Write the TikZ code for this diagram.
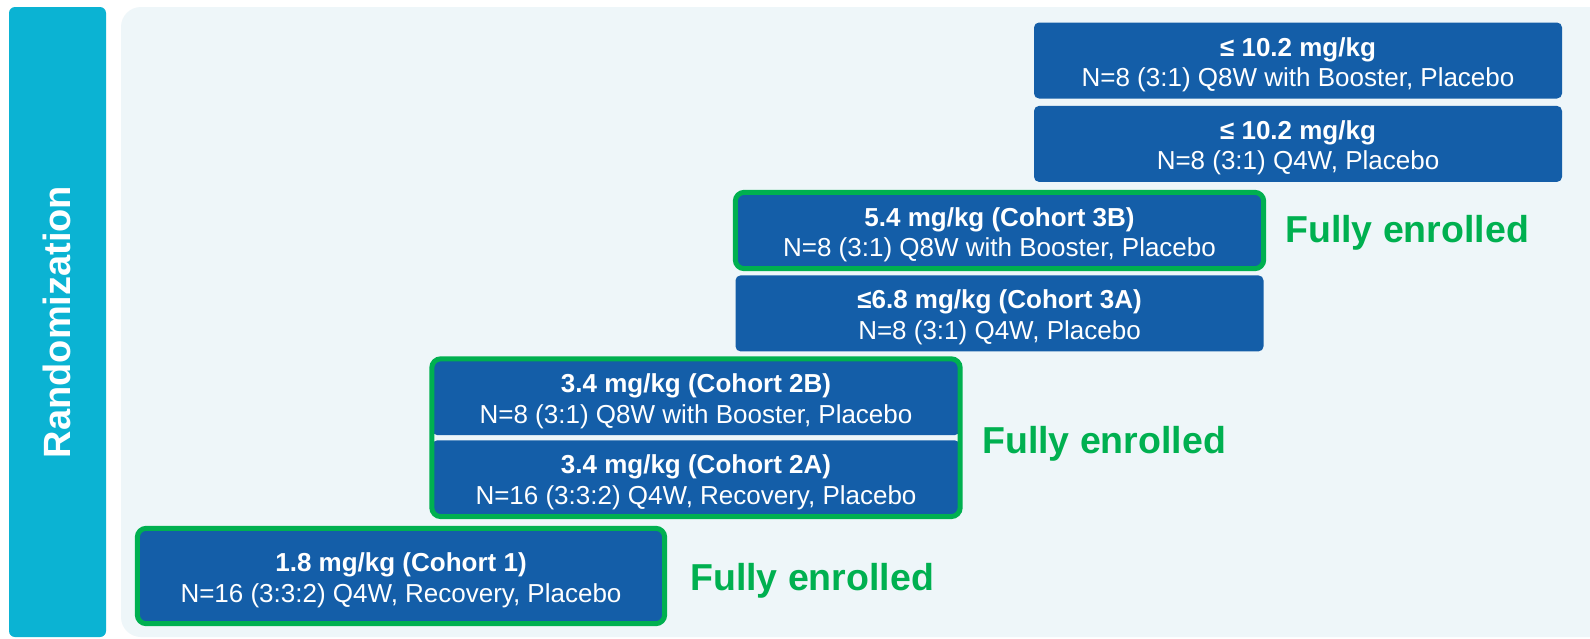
\documentclass[tikz,border=0pt]{standalone}
\usepackage{fontspec}
\setmainfont{Liberation Sans}
\usetikzlibrary{positioning,fit}
\definecolor{randcyan}{HTML}{0BB3D3}
\definecolor{panelbg}{HTML}{EEF6F9}
\definecolor{doseblue}{HTML}{145EA8}
\definecolor{enrgreen}{HTML}{00B050}
\newcommand{\dosehead}[1]{\rule{0pt}{27pt}\textbf{#1}}

\begin{document}
\begin{tikzpicture}[
  x=1pt, y=-1pt,
  dose/.style={fill=doseblue, rounded corners=5pt, text=white, minimum width=528pt, minimum height=76pt, inner sep=0pt, align=center, font=\fontsize{26}{30.5}\selectfont},
  frame/.style={draw=enrgreen, line width=5pt, rounded corners=9pt, inner sep=0pt},
  done/.style={text=enrgreen, font=\fontsize{37.5}{40}\selectfont\bfseries, anchor=west, inner sep=0pt}
]
\useasboundingbox (0,0) rectangle (1590,638);
\clip (0,0) rectangle (1590,638);
\fill[white] (0,0) rectangle (1590,638);
\fill[randcyan, rounded corners=6pt] (9,7) rectangle (106,637);
\fill[panelbg, rounded corners=20pt] (121,7) rectangle (1630,637);
\node[rotate=90, text=white, font=\fontsize{38}{40}\selectfont\bfseries] (rand) at (57,322) {Randomization};

% dose levels, top to bottom
\node[dose] (d10q8) at (1298,60.5) {\dosehead{≤ 10.2 mg/kg}\\N=8 (3:1) Q8W with Booster, Placebo};
\node[dose, below=7pt of d10q8] (d10q4) {\dosehead{≤ 10.2 mg/kg}\\N=8 (3:1) Q4W, Placebo};

\node[dose] (c3b) at (999.5,230.5) {\dosehead{5.4 mg/kg (Cohort 3B)}\\N=8 (3:1) Q8W with Booster, Placebo};
\node[dose, below=6.5pt of c3b] (c3a) {\dosehead{≤6.8 mg/kg (Cohort 3A)}\\N=8 (3:1) Q4W, Placebo};

\node[dose] (c2b) at (696,397) {\dosehead{3.4 mg/kg (Cohort 2B)}\\N=8 (3:1) Q8W with Booster, Placebo};
\node[dose, below=5pt of c2b] (c2a) {\dosehead{3.4 mg/kg (Cohort 2A)}\\N=16 (3:3:2) Q4W, Recovery, Placebo};

\node[dose, minimum width=527pt, minimum height=95pt] (c1) at (401,576) {\dosehead{1.8 mg/kg (Cohort 1)}\\N=16 (3:3:2) Q4W, Recovery, Placebo};

% enrolled cohorts
\node[frame, fit=(c3b)] (f3b) {};
\node[frame, fit=(c2b)(c2a)] (f2) {};
\node[frame, fit=(c1)] (f1) {};

\node[done] (e3) at (1285,233) {Fully enrolled};
\node[done] (e2) at (982,444) {Fully enrolled};
\node[done] (e1) at (690,581) {Fully enrolled};
\end{tikzpicture}
\end{document}
